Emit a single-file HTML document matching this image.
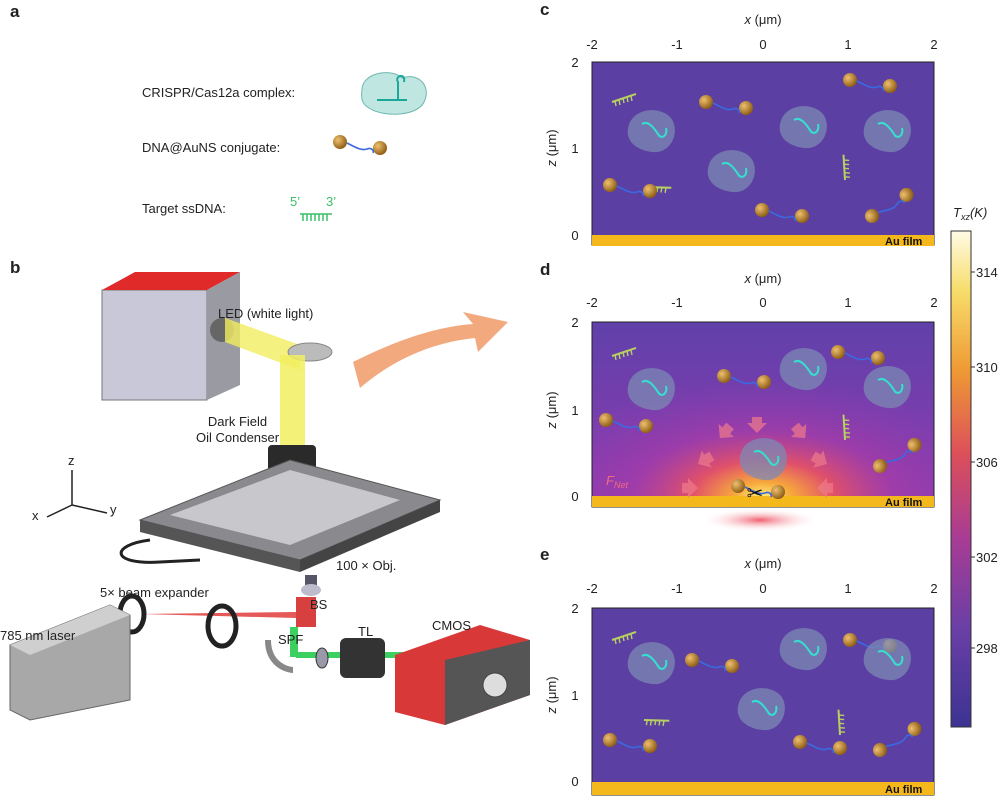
<!DOCTYPE html>
<html><head><meta charset="utf-8"><style>
body{margin:0;background:#fff;width:1000px;height:799px;overflow:hidden;position:relative;font-family:"Liberation Sans",sans-serif;color:#222}
.t{position:absolute;font-size:13px;white-space:nowrap}
.b{font-weight:bold;font-size:17px}
</style></head><body>
<svg width="1000" height="799" style="position:absolute;left:0;top:0" font-family="Liberation Sans, sans-serif">
<defs>
<linearGradient id="cb" x1="0" y1="0" x2="0" y2="1">
<stop offset="0" stop-color="#fffbe6"/><stop offset="0.12" stop-color="#f7dd6a"/><stop offset="0.28" stop-color="#ef9a34"/><stop offset="0.45" stop-color="#dc4f5a"/><stop offset="0.62" stop-color="#a83c94"/><stop offset="0.8" stop-color="#6a3fa6"/><stop offset="1" stop-color="#3c3392"/>
</linearGradient>
<linearGradient id="dbg" x1="0" y1="0" x2="0" y2="1"><stop offset="0" stop-color="#6040aa"/><stop offset="1" stop-color="#8e3cb0"/></linearGradient>
<radialGradient id="hot" cx="0.5" cy="1" r="0.7">
<stop offset="0" stop-color="#fff07a"/><stop offset="0.12" stop-color="#f7a83c"/><stop offset="0.3" stop-color="#e0506a"/><stop offset="0.55" stop-color="#a83ca8" stop-opacity="0.7"/><stop offset="1" stop-color="#8e3cb0" stop-opacity="0"/>
</radialGradient>
<radialGradient id="spot" cx="0.5" cy="0.5" r="0.5"><stop offset="0" stop-color="#f06070"/><stop offset="1" stop-color="#fff" stop-opacity="0"/></radialGradient>
<radialGradient id="au" cx="0.35" cy="0.35" r="0.7"><stop offset="0" stop-color="#f0c070"/><stop offset="1" stop-color="#8a5a12"/></radialGradient>
<g id="blob"><path d="M0,0 c10,-18 40,-14 44,2 c4,14 -6,30 -22,28 c-16,-2 -30,-12 -22,-30z" fill="#7c8ab4" opacity="0.75"/><path d="M12,2 c6,-4 12,4 16,10 c3,6 10,2 8,-6" stroke="#35e0d0" stroke-width="2" fill="none"/></g>
<g id="con"><circle cx="0" cy="0" r="7" fill="url(#au)"/><circle cx="40" cy="6" r="7" fill="url(#au)"/><path d="M7,1 c8,4 14,8 20,6 c5,-2 7,2 6,4" stroke="#3a6ae0" stroke-width="1.6" fill="none"/></g>
<g id="ss"><path d="M0,0 l24,-8" stroke="#b8d060" stroke-width="2"/><path d="M3,-1 l1,5 M7,-2 l1,5 M11,-4 l1,5 M15,-5 l1,5 M19,-6 l1,5" stroke="#b8d060" stroke-width="1.4"/></g>
<g id="arr"><path d="M-5,-8 l10,0 l0,6 l5,0 l-10,10 l-10,-10 l5,0z" fill="#f07a8a" opacity="0.7"/></g>
</defs>

<!-- panel a icons -->
<g transform="translate(362,70)"><path d="M0,20 c0,-18 30,-22 40,-12 c16,-6 30,8 22,24 c-6,14 -40,16 -55,6 c-8,-4 -8,-12 -7,-18z" fill="#bfe6e0" stroke="#6fb8b0"/><path d="M15,30 l30,0 M36,30 l0,-18 c-4,-6 8,-10 6,0" stroke="#1aa89a" stroke-width="2" fill="none"/></g>
<g transform="translate(340,142)"><use href="#con"/></g>
<path d="M300,214 l32,0 M303,214 l0,7 M307,214 l0,7 M311,214 l0,7 M315,214 l0,7 M319,214 l0,7 M323,214 l0,7 M327,214 l0,7" stroke="#3bbf6a" stroke-width="1.5"/>
<text x="290" y="206" font-size="13" fill="#3bbf6a">5’</text><text x="326" y="206" font-size="13" fill="#3bbf6a">3’</text>

<!-- panel b apparatus -->
<rect x="102" y="290" width="105" height="110" fill="#c8c8d8" stroke="#777"/>
<polygon points="102,290 135,272 240,272 207,290" fill="#e02a2a"/>
<polygon points="207,290 240,272 240,385 207,400" fill="#9a9aa2"/>
<circle cx="222" cy="330" r="12" fill="#666"/>
<polygon points="225,318 300,345 300,370 225,342" fill="#f2ee60" opacity="0.8"/>
<ellipse cx="310" cy="352" rx="22" ry="9" fill="#bbb" stroke="#888"/>
<rect x="280" y="355" width="25" height="95" fill="#f2ee60" opacity="0.85"/>
<rect x="268" y="445" width="48" height="40" rx="4" fill="#2a2a2a"/>
<rect x="275" y="485" width="36" height="14" fill="#444"/>
<polygon points="140,520 290,460 440,500 300,560" fill="#8a8a8e" stroke="#555"/>
<polygon points="170,515 290,470 400,500 290,545" fill="#c8c8cc"/>
<polygon points="140,520 300,560 300,572 140,532" fill="#555"/>
<polygon points="300,560 440,500 440,512 300,572" fill="#444"/>
<path d="M150,540 c-40,5 -40,25 10,22 l40,-2" stroke="#222" stroke-width="3" fill="none"/>
<path d="M353,362 c40,-20 80,-35 120,-38 l-10,-12 l45,10 l-30,30 l-3,-14 c-40,4 -80,20 -115,50 z" fill="#f2a070" opacity="0.9"/>
<rect x="305" y="575" width="12" height="15" fill="#556"/><ellipse cx="311" cy="590" rx="10" ry="6" fill="#bbc"/>
<rect x="296" y="597" width="20" height="30" fill="#d84040"/>
<polygon points="140,614 296,612 296,618" fill="#e03030" opacity="0.8"/>
<ellipse cx="132" cy="614" rx="12" ry="18" fill="none" stroke="#222" stroke-width="5"/>
<ellipse cx="222" cy="626" rx="14" ry="20" fill="none" stroke="#222" stroke-width="5"/>
<polygon points="10,645 110,605 130,615 130,700 30,720 10,710" fill="#a8a8a8" stroke="#666"/>
<polygon points="10,645 110,605 130,615 30,655" fill="#cfcfcf"/>
<rect x="290" y="627" width="8" height="30" fill="#3bd060"/>
<rect x="296" y="652" width="110" height="6" fill="#3bd060"/>
<path d="M268,640 c0,25 20,30 25,30" stroke="#888" stroke-width="6" fill="none"/>
<ellipse cx="322" cy="658" rx="6" ry="10" fill="#99a" stroke="#333"/>
<rect x="340" y="638" width="45" height="40" rx="6" fill="#333"/>
<polygon points="395,655 480,625 530,640 530,695 445,725 395,712" fill="#d83838"/>
<polygon points="445,660 530,640 530,695 445,725" fill="#555"/>
<circle cx="495" cy="685" r="12" fill="#ddd" stroke="#444"/>
<path d="M72,505 l0,-35 M72,505 l35,8 M72,505 l-25,12" stroke="#222" stroke-width="1.5"/>

<!-- panels c,d,e -->
<rect x="592" y="62" width="342" height="183" fill="#5c3fa2" stroke="#222"/>
<rect x="592" y="235" width="342" height="11" fill="#f5b81c"/>
<rect x="592" y="322" width="342" height="185" fill="url(#dbg)" stroke="#222"/>
<rect x="593" y="323" width="340" height="174" fill="url(#hot)"/>
<rect x="592" y="496" width="342" height="11" fill="#f5b81c"/>
<rect x="700" y="508" width="120" height="24" fill="url(#spot)"/>
<rect x="592" y="608" width="342" height="187" fill="#5c3fa2" stroke="#222"/>
<rect x="592" y="782" width="342" height="13" fill="#f5b81c"/>
<g font-size="11" font-weight="bold" fill="#111"><text x="885" y="245">Au film</text><text x="885" y="506">Au film</text><text x="885" y="793">Au film</text></g>
<g><use href="#ss" transform="translate(612,102)"/><use href="#ss" transform="translate(646,187) rotate(20)"/><use href="#ss" transform="translate(845,180) rotate(-75)"/>
<use href="#con" transform="translate(706,102)"/><use href="#con" transform="translate(850,80)"/><use href="#con" transform="translate(610,185)"/><use href="#con" transform="translate(762,210)"/><use href="#con" transform="translate(872,216) rotate(-40)"/>
<use href="#blob" transform="translate(630,122)"/><use href="#blob" transform="translate(710,162)"/><use href="#blob" transform="translate(782,118)"/><use href="#blob" transform="translate(866,122)"/></g>
<g><use href="#ss" transform="translate(612,356)"/><use href="#ss" transform="translate(845,440) rotate(-75)"/>
<use href="#con" transform="translate(724,376)"/><use href="#con" transform="translate(838,352)"/><use href="#con" transform="translate(606,420)"/><use href="#con" transform="translate(880,466) rotate(-40)"/><use href="#con" transform="translate(738,486)"/>
<use href="#blob" transform="translate(630,380)"/><use href="#blob" transform="translate(866,378)"/><use href="#blob" transform="translate(782,360)"/><use href="#blob" transform="translate(742,450)"/>
<use href="#arr" transform="translate(757,425)"/><use href="#arr" transform="translate(725,432) rotate(40)"/><use href="#arr" transform="translate(800,432) rotate(-40)"/><use href="#arr" transform="translate(705,460) rotate(60)"/><use href="#arr" transform="translate(820,460) rotate(-60)"/><use href="#arr" transform="translate(690,488) rotate(-90)"/><use href="#arr" transform="translate(825,488) rotate(90)"/>
<text x="755" y="500" font-size="20" fill="#111" text-anchor="middle">✂</text></g>
<text x="606" y="485" font-size="13" font-style="italic" fill="#f06a80">F<tspan font-size="9" dy="3">Net</tspan></text>
<g><use href="#ss" transform="translate(612,640)"/><use href="#ss" transform="translate(644,720) rotate(20)"/><use href="#ss" transform="translate(840,735) rotate(-75)"/>
<use href="#con" transform="translate(692,660)"/><use href="#con" transform="translate(850,640)"/><use href="#con" transform="translate(610,740)"/><use href="#con" transform="translate(800,742)"/><use href="#con" transform="translate(880,750) rotate(-40)"/>
<use href="#blob" transform="translate(630,654)"/><use href="#blob" transform="translate(740,700)"/><use href="#blob" transform="translate(782,640)"/><use href="#blob" transform="translate(866,650)"/></g>

<rect x="951" y="231" width="20" height="496" fill="url(#cb)" stroke="#333"/>
<g stroke="#333"><line x1="971" y1="272" x2="975" y2="272"/><line x1="971" y1="367" x2="975" y2="367"/><line x1="971" y1="462" x2="975" y2="462"/><line x1="971" y1="557" x2="975" y2="557"/><line x1="971" y1="648" x2="975" y2="648"/></g>
<g font-size="13" fill="#222"><text x="976" y="277">314</text><text x="976" y="372">310</text><text x="976" y="467">306</text><text x="976" y="562">302</text><text x="976" y="653">298</text>
<text x="953" y="217" font-style="italic">T<tspan font-size="9" dy="3">xz</tspan><tspan dy="-3">(K)</tspan></text></g>

<g font-size="13" fill="#222" text-anchor="middle">
<text x="763" y="24"><tspan font-style="italic">x</tspan> (μm)</text>
<text x="592" y="49">-2</text><text x="677" y="49">-1</text><text x="763" y="49">0</text><text x="848" y="49">1</text><text x="934" y="49">2</text>
<text x="763" y="283"><tspan font-style="italic">x</tspan> (μm)</text>
<text x="592" y="307">-2</text><text x="677" y="307">-1</text><text x="763" y="307">0</text><text x="848" y="307">1</text><text x="934" y="307">2</text>
<text x="763" y="568"><tspan font-style="italic">x</tspan> (μm)</text>
<text x="592" y="593">-2</text><text x="677" y="593">-1</text><text x="763" y="593">0</text><text x="848" y="593">1</text><text x="934" y="593">2</text>
<text x="575" y="67">2</text><text x="575" y="153">1</text><text x="575" y="240">0</text>
<text x="575" y="327">2</text><text x="575" y="415">1</text><text x="575" y="501">0</text>
<text x="575" y="613">2</text><text x="575" y="700">1</text><text x="575" y="786">0</text>
<text transform="translate(556,148) rotate(-90)"><tspan font-style="italic">z</tspan> (μm)</text>
<text transform="translate(556,410) rotate(-90)"><tspan font-style="italic">z</tspan> (μm)</text>
<text transform="translate(556,695) rotate(-90)"><tspan font-style="italic">z</tspan> (μm)</text>
</g>
</svg>

<div class="t b" style="left:10px;top:2px">a</div>
<div class="t b" style="left:10px;top:258px">b</div>
<div class="t b" style="left:540px;top:0px">c</div>
<div class="t b" style="left:540px;top:260px">d</div>
<div class="t b" style="left:540px;top:545px">e</div>
<div class="t" style="left:142px;top:85px">CRISPR/Cas12a complex:</div>
<div class="t" style="left:142px;top:140px">DNA@AuNS conjugate:</div>
<div class="t" style="left:142px;top:201px">Target ssDNA:</div>
<div class="t" style="left:218px;top:306px">LED (white light)</div>
<div class="t" style="left:196px;top:414px;text-align:center;line-height:16px">Dark Field<br>Oil Condenser</div>
<div class="t" style="left:68px;top:453px">z</div>
<div class="t" style="left:32px;top:508px">x</div>
<div class="t" style="left:110px;top:502px">y</div>
<div class="t" style="left:336px;top:558px">100 × Obj.</div>
<div class="t" style="left:100px;top:585px">5× beam expander</div>
<div class="t" style="left:310px;top:597px">BS</div>
<div class="t" style="left:278px;top:632px">SPF</div>
<div class="t" style="left:358px;top:624px">TL</div>
<div class="t" style="left:432px;top:618px">CMOS</div>
<div class="t" style="left:0px;top:628px">785 nm laser</div>
</body></html>
